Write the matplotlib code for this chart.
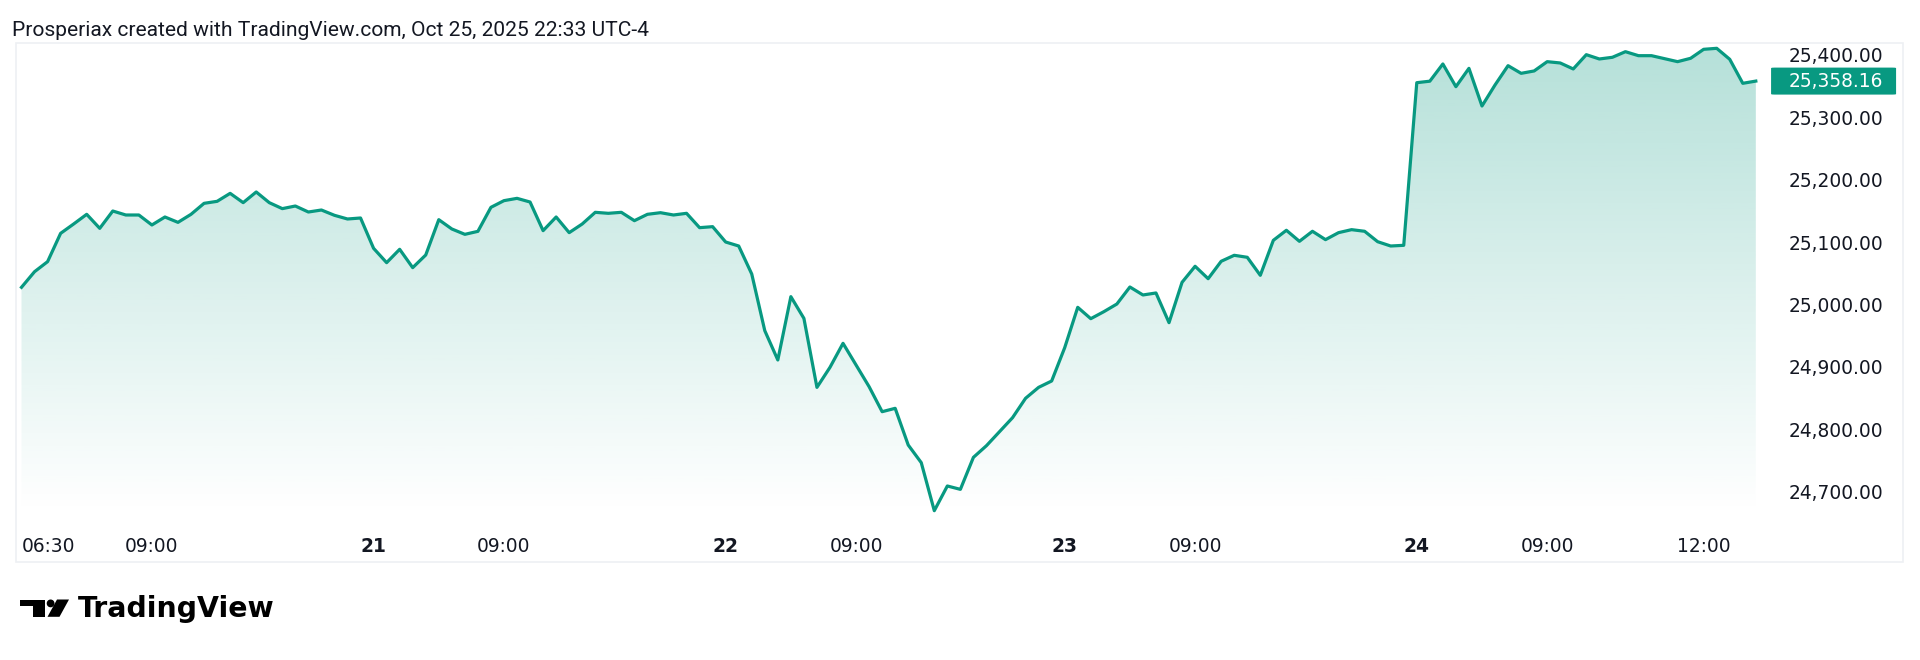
import numpy as np
import matplotlib
matplotlib.use("Agg")
import matplotlib.pyplot as plt
from matplotlib.patches import Polygon, Rectangle, FancyBboxPatch, Circle
from matplotlib.transforms import blended_transform_factory
from matplotlib.ticker import FuncFormatter

# 15-minute closes, Oct 20 - Oct 24 (bar index on the x axis)
close = [
    25027.6, 25052.6, 25068.7, 25114.1, 25129.1, 25144.6, 25122.1, 25149.9, 25143.5, 25143.5,
    25127.5, 25140.3, 25131.7, 25144.6, 25162.2, 25165.4, 25178.2, 25163.3, 25180.4, 25163.3,
    25153.7, 25157.9, 25148.3, 25151.5, 25143.0, 25137.1, 25138.7,
    25090.1, 25067.1, 25088.5, 25059.1, 25079.4, 25136.0, 25121.1, 25112.5, 25117.3, 25155.8,
    25166.5, 25170.2, 25164.3, 25118.4, 25140.3, 25115.2, 25129.1, 25147.8, 25146.2, 25147.8,
    25134.4, 25144.6, 25147.2, 25143.5, 25146.2, 25123.2, 25124.8,
    25100.2, 25093.8, 25048.9, 24958.1, 24911.1, 25012.6, 24977.8, 24867.2, 24899.3, 24937.8,
    24903.0, 24868.3, 24828.2, 24833.6, 24774.8, 24746.5, 24669.5, 24709.1, 24703.7, 24755.0,
    24773.7, 24796.1, 24818.6, 24849.7, 24867.2, 24877.4,
    24930.8, 24995.5, 24977.3, 24988.5, 25000.8, 25028.1, 25015.3, 25018.5, 24970.9, 25035.6,
    25061.3, 25041.4, 25069.3, 25078.9, 25075.7, 25046.8, 25102.9, 25119.0, 25101.3, 25117.4,
    25104.0, 25115.2, 25120.0, 25117.4, 25100.7, 25093.8, 25094.9,
    25355.6, 25358.0, 25385.6, 25349.2, 25378.6, 25318.2, 25351.9, 25382.9, 25370.6, 25374.4,
    25389.3, 25387.2, 25377.6, 25400.5, 25393.6, 25396.3, 25405.3, 25398.9, 25398.9, 25394.1,
    25389.3, 25394.7, 25409.1, 25410.7, 25393.1, 25354.6, 25358.16,
]

tick_pos = [0, 10, 27, 37, 54, 64, 80, 90, 107, 117, 129]
tick_labels = ["06:30", "09:00", "21", "09:00", "22", "09:00", "23", "09:00", "24", "09:00", "12:00"]
day_labels = ["21", "22", "23", "24"]
price_ticks = [24700, 24800, 24900, 25000, 25100, 25200, 25300, 25400]

header = "Prosperiax created with TradingView.com, Oct 25, 2025 22:33 UTC-4"

GREEN = "#089981"
TXT = "#131722"
FONT = "DejaVu Sans"
W, H = 1920, 660

x = np.arange(len(close))
y = np.array(close)

fig = plt.figure(figsize=(W / 100, H / 100), dpi=100)
fig.patch.set_facecolor("white")
renderer = fig.canvas.get_renderer()


def fit_width(t, target):
    # scale a text so it spans target pixels
    w = t.get_window_extent(renderer).width
    t.set_fontsize(t.get_fontsize() * target / w)


# overlay in pixel coords for frame / header / logo
ov = fig.add_axes([0, 0, 1, 1], zorder=0)
ov.set_xlim(0, W)
ov.set_ylim(H, 0)
ov.axis("off")
ov.add_patch(Rectangle((16, 42.5), 1887, 519.5, fill=False, ec="#eef0f3", lw=1.2))
hd = ov.text(12, 36, header, fontsize=14, color=TXT, family="Roboto", va="baseline")
fit_width(hd, 640)

# TradingView logo
ov.add_patch(Rectangle((19.5, 599.5), 25.5, 6.8, color="black", lw=0))
ov.add_patch(Rectangle((33.0, 599.5), 12.0, 17.3, color="black", lw=0))
ov.add_patch(Circle((50.6, 603.4), 3.9, color="black", lw=0))
ov.add_patch(Polygon([(57.0, 599.5), (69.0, 599.5), (59.5, 616.8), (47.5, 616.8)],
                     closed=True, color="black", lw=0))
wm = ov.text(78, 617, "TradingView", fontsize=18, fontweight="bold", family=FONT,
             color="black", va="baseline")
fit_width(wm, 197)

# main pane
L, R, T, B = 16, 1762, 42.7, 513
ax = fig.add_axes([L / W, 1 - B / H, (R - L) / W, (B - T) / H], zorder=1)
ax.patch.set_alpha(0)
x0 = -(21.5 - L) / 13.04
x1 = (R - 21.5) / 13.04
ax.set_xlim(x0, x1)
ax.set_ylim(24665.8, 25419.7)

ax.plot(x, y, color=GREEN, lw=2.3, solid_joinstyle="round", zorder=3)

# gradient fill under the line
poly = ax.fill_between(x, y, 24665.8, color="none")
path = poly.get_paths()[0]
clip = Polygon(path.vertices, closed=True, transform=ax.transData, fc="none", ec="none")
ax.add_patch(clip)
grad = np.zeros((256, 1, 4))
grad[..., 0], grad[..., 1], grad[..., 2] = 8 / 255, 153 / 255, 129 / 255
grad[:, 0, 3] = np.linspace(0.30, 0.0, 256)
img = ax.imshow(grad, aspect="auto", extent=[x0, x1, 24665.8, y.max()],
                origin="upper", zorder=2)
img.set_clip_path(clip)

for s in ax.spines.values():
    s.set_visible(False)

ax.set_xticks(tick_pos)
ax.set_xticklabels(tick_labels)
ax.tick_params(axis="x", length=0, pad=17, labelsize=13.4, labelcolor=TXT)
for t in ax.get_xticklabels():
    t.set_family(FONT)
    if t.get_text() in day_labels:
        t.set_fontweight("bold")
first = ax.get_xticklabels()[0]
first.set_ha("left")
first.set_x(x0)

ax.yaxis.tick_right()
ax.set_yticks(price_ticks)
ax.yaxis.set_major_formatter(FuncFormatter(lambda v, p: f"{v:,.2f}"))
ax.tick_params(axis="y", length=0, pad=19, labelsize=13.4, labelcolor=TXT)
for t in ax.get_yticklabels():
    t.set_family(FONT)

# last price marker on the scale
last = close[-1]
bt = blended_transform_factory(ax.transAxes, ax.transData)
box_h = 27 / ((B - T) / (25419.7 - 24665.8))
ax.add_patch(FancyBboxPatch((1.0052, last - box_h / 2), 125 / (R - L), box_h,
                            boxstyle="round,pad=0,rounding_size=0.002", transform=bt,
                            fc=GREEN, ec="none", clip_on=False, mutation_aspect=400))
ax.text((1788.5 - L) / (R - L), last, f"{last:,.2f}", transform=bt, color="white",
        fontsize=13.4, family=FONT, ha="left", va="center", clip_on=False)

fig.savefig("out.png", dpi=100, facecolor="white")
